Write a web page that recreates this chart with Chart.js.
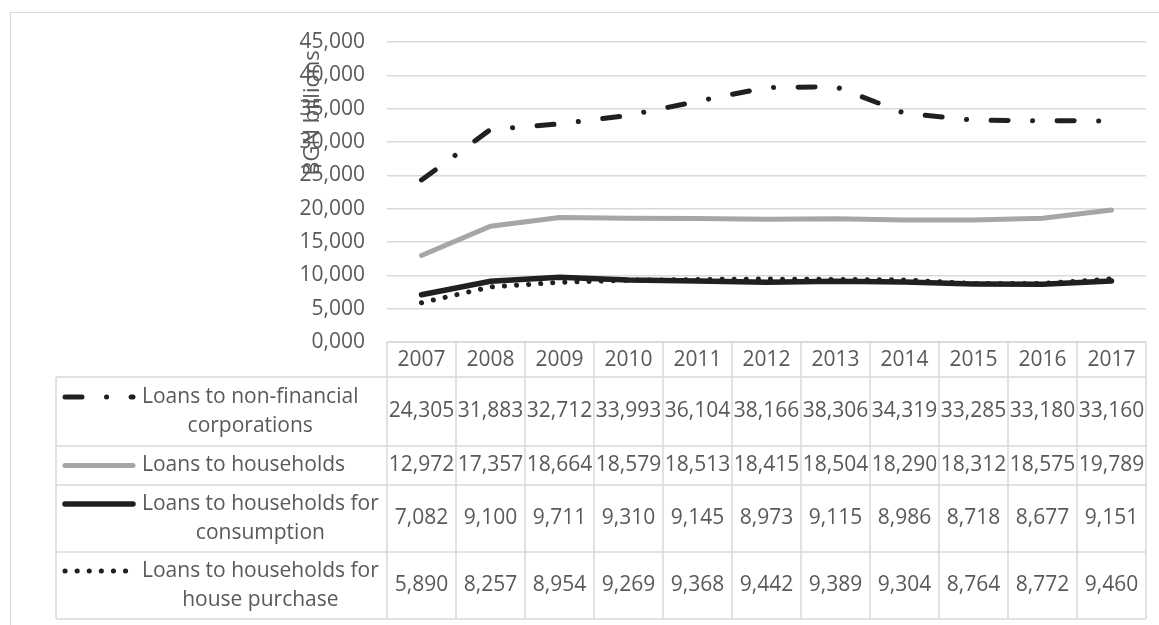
<!DOCTYPE html>
<html>
<head>
<meta charset="utf-8">
<script src="https://cdn.jsdelivr.net/npm/chart.js@4/dist/chart.umd.min.js"></script>
<style>
  html, body { margin: 0; padding: 0; background: #fff; }
  #frame { position: absolute; left: 10px; top: 12px; width: 1400px; height: 800px; border: 1.5px solid #d9d9d9; }
  #wrap { position: absolute; left: 0; top: 0; width: 1159px; height: 625px; }
</style>
</head>
<body>
<div id="frame"></div>
<div id="wrap"><canvas id="myChart" width="1159" height="625"></canvas></div>
<script>
const years = ["2007", "2008", "2009", "2010", "2011", "2012", "2013", "2014", "2015", "2016", "2017"];
const nonFinancial = [24.305, 31.883, 32.712, 33.993, 36.104, 38.166, 38.306, 34.319, 33.285, 33.18, 33.16];
const households = [12.972, 17.357, 18.664, 18.579, 18.513, 18.415, 18.504, 18.29, 18.312, 18.575, 19.789];
const consumption = [7.082, 9.1, 9.711, 9.31, 9.145, 8.973, 9.115, 8.986, 8.718, 8.677, 9.151];
const housePurchase = [5.89, 8.257, 8.954, 9.269, 9.368, 9.442, 9.389, 9.304, 8.764, 8.772, 9.46];
const seriesNames = [
  ["Loans to non-financial", "corporations"],
  ["Loans to households"],
  ["Loans to households for", "consumption"],
  ["Loans to households for", "house purchase"],
];
const yMin = 0;
const yMax = 45;
const yStep = 5;
const yTitle = "BGN billions";

const textColor = "#595959";
const gridColor = "#d9d9d9";
const fontFamily = "'Open Sans', sans-serif";

const fmt = (v) => v.toFixed(3).replace(".", ",");

// data table under the plot, drawn from the x scale positions
const tablePlugin = {
  id: "dataTable",
  afterDraw(chart) {
    const { ctx, chartArea: area, scales: { x } } = chart;
    const n = chart.data.labels.length;
    const band = (area.right - area.left) / n;
    const rowHeights = [69, 39, 67, 67];
    const legendLeft = 56;
    const top = x.bottom;
    const bottom = top + rowHeights.reduce((a, b) => a + b, 0);

    ctx.save();
    ctx.strokeStyle = gridColor;
    ctx.lineWidth = 1.5;
    ctx.beginPath();
    for (let i = 0; i <= n; i++) {
      const xx = area.left + i * band;
      ctx.moveTo(xx, area.bottom);
      ctx.lineTo(xx, bottom);
    }
    ctx.moveTo(area.left, area.bottom);
    ctx.lineTo(area.right, area.bottom);
    let yy = top;
    ctx.moveTo(legendLeft, yy);
    ctx.lineTo(area.right, yy);
    rowHeights.forEach((h) => {
      yy += h;
      ctx.moveTo(legendLeft, yy);
      ctx.lineTo(area.right, yy);
    });
    ctx.moveTo(legendLeft, top);
    ctx.lineTo(legendLeft, bottom);
    ctx.stroke();

    ctx.fillStyle = textColor;
    ctx.font = "21px " + fontFamily;
    ctx.textBaseline = "middle";
    const lh = 29;
    yy = top;
    chart.data.datasets.forEach((ds, r) => {
      const h = rowHeights[r];
      const cy = yy + h / 2;
      ctx.textAlign = "center";
      ds.data.forEach((v, i) => {
        ctx.fillText(fmt(v), x.getPixelForValue(i), cy);
      });
      // legend key
      const lines = seriesNames[r];
      const firstY = lines.length > 1 ? cy - lh / 2 : cy;
      ctx.save();
      ctx.strokeStyle = ds.borderColor;
      ctx.lineWidth = ds.borderWidth;
      ctx.lineCap = ds.borderCapStyle || "butt";
      ctx.setLineDash(ds.borderDash || []);
      ctx.beginPath();
      ctx.moveTo(65, firstY);
      ctx.lineTo(133, firstY);
      ctx.stroke();
      ctx.restore();
      ctx.textAlign = "left";
      const w0 = ctx.measureText(lines[0]).width;
      const tx = 142;
      ctx.fillText(lines[0], tx, firstY);
      if (lines.length > 1) {
        ctx.textAlign = "center";
        ctx.fillText(lines[1], tx + w0 / 2, firstY + lh);
      }
      yy += h;
    });

    // axis title, overlapping the tick labels as in the source
    ctx.font = "22px " + fontFamily;
    ctx.translate(313, 113);
    ctx.rotate(-Math.PI / 2);
    ctx.textAlign = "center";
    ctx.fillText(yTitle, 0, 0);
    ctx.restore();
  },
};

const newChart = document.getElementById("myChart").getContext("2d");
const myChart = new Chart(newChart, {
  type: "line",
  data: {
    labels: years,
    datasets: [
      {
        label: seriesNames[0].join(" "),
        data: nonFinancial,
        borderColor: "#231f20",
        borderWidth: 5,
        borderDash: [17, 24.5, 0.1, 24.5],
        borderCapStyle: "round",
        order: 3,
      },
      {
        label: seriesNames[1].join(" "),
        data: households,
        borderColor: "#a6a6a6",
        borderWidth: 5,
        borderCapStyle: "round",
        order: 2,
      },
      {
        label: seriesNames[2].join(" "),
        data: consumption,
        borderColor: "#231f20",
        borderWidth: 5.5,
        borderCapStyle: "round",
        order: 1,
      },
      {
        label: seriesNames[3].join(" "),
        data: housePurchase,
        borderColor: "#231f20",
        borderWidth: 5,
        borderDash: [0.1, 12],
        borderCapStyle: "round",
        order: 0,
      },
    ],
  },
  options: {
    responsive: false,
    animation: false,
    elements: { point: { radius: 0 }, line: { tension: 0 } },
    layout: { padding: { top: 42, right: 13, bottom: 248, left: 0 } },
    plugins: { legend: { display: false }, tooltip: { enabled: false } },
    scales: {
      x: {
        type: "category",
        offset: true,
        grid: { display: false, drawTicks: false },
        border: { display: false },
        ticks: {
          color: textColor,
          font: { family: fontFamily, size: 21 },
          padding: 5,
          maxRotation: 0,
          autoSkip: false,
        },
        afterFit(scale) {
          scale.height = 35;
        },
      },
      y: {
        min: yMin,
        max: yMax,
        ticks: {
          stepSize: yStep,
          color: textColor,
          font: { family: fontFamily, size: 21 },
          padding: 22,
          callback: (v) => fmt(v),
        },
        grid: { color: gridColor, lineWidth: 1.5, drawTicks: false },
        border: { display: false },
        afterFit(scale) {
          scale.width = 387;
        },
      },
    },
  },
  plugins: [tablePlugin],
});
</script>
</body>
</html>
